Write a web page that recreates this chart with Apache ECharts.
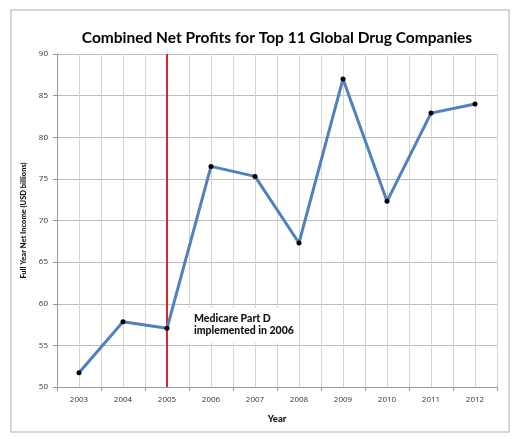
<!DOCTYPE html>
<html><head><meta charset="utf-8">
<script src="https://cdn.jsdelivr.net/npm/echarts@6/dist/echarts.min.js"></script>
<style>html,body{margin:0;padding:0;background:#fff}#c{width:520px;height:443px}</style>
</head><body><div id="c"></div>
<script>
var years = ['2003','2004','2005','2006','2007','2008','2009','2010','2011','2012'];
var netIncome = [51.7, 57.85, 57.05, 76.5, 75.3, 67.3, 87.0, 72.3, 82.9, 84.0];
var markerYear = '2005';
var titleText = 'Combined Net Profits for Top 11 Global Drug Companies';
var annotation = 'Medicare Part D\nimplemented in 2006';

var chart = echarts.init(document.getElementById('c'));
chart.setOption({
  animation: false,
  backgroundColor: '#fff',
  graphic: [
    {type: 'rect', shape: {x: 11, y: 10, width: 498, height: 422},
     style: {fill: 'none', stroke: '#c8c8c8', lineWidth: 1.5}, z: -1},
    {type: 'text', x: 277, y: 38, z: 10,
     style: {text: titleText, font: 'bold 15.5px Lato', fill: '#000',
             textAlign: 'center', textVerticalAlign: 'middle'}},
    {type: 'rect', shape: {x: 185, y: 308, width: 105, height: 35},
     style: {fill: '#fff'}, z: 5},
    {type: 'text', x: 194, y: 312, z: 10,
     style: {text: annotation, font: '900 10.5px Lato', fill: '#111', lineHeight: 12.5}}
  ],
  grid: {left: 57, right: 23, top: 54, bottom: 56},
  xAxis: [
    {type: 'category', data: years, boundaryGap: true,
     name: 'Year', nameLocation: 'middle', nameGap: 27,
     nameTextStyle: {fontFamily: 'Lato', fontWeight: 900, fontSize: 9.5, color: '#111'},
     axisLine: {lineStyle: {color: '#999', width: 1}},
     axisTick: {show: true, length: 4, lineStyle: {color: '#999'}},
     axisLabel: {fontFamily: 'Open Sans', fontSize: 8, color: '#333', margin: 9},
     splitLine: {show: false}},
    {type: 'value', min: 0, max: 20, interval: 1, show: true, position: 'top',
     axisLine: {show: false}, axisTick: {show: false}, axisLabel: {show: false},
     splitLine: {show: true, lineStyle: {color: '#d4d4d4', width: 1}}}
  ],
  yAxis: {
    type: 'value', min: 50, max: 90, interval: 5,
    name: 'Full Year Net Income (USD billions)', nameLocation: 'middle', nameGap: 26,
    nameTextStyle: {fontFamily: 'Lato', fontWeight: 900, fontSize: 7.5, color: '#111'},
    axisLine: {show: true, lineStyle: {color: '#999'}},
    axisTick: {show: true, length: 4, lineStyle: {color: '#999'}},
    axisLabel: {fontFamily: 'Open Sans', fontSize: 8, color: '#333', margin: 9},
    splitLine: {lineStyle: {color: '#bdbdbd', width: 1}}
  },
  series: [{
    type: 'line', data: netIncome, xAxisIndex: 0,
    lineStyle: {color: '#4f81bd', width: 3},
    itemStyle: {color: '#000'}, symbol: 'circle', symbolSize: 5,
    z: 3,
    markLine: {
      silent: true, symbol: 'none', label: {show: false},
      lineStyle: {color: '#d9262b', width: 2, type: 'solid'},
      data: [{xAxis: markerYear}], z: 2
    }
  }]
});
</script></body></html>
